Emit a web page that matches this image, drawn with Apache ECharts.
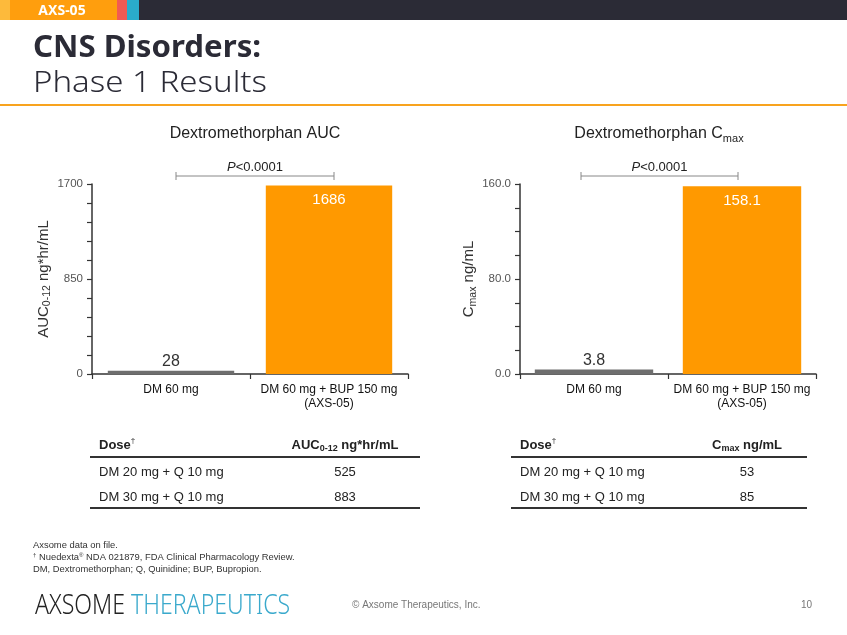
<!DOCTYPE html>
<html><head><meta charset="utf-8">
<script src="https://cdn.jsdelivr.net/npm/echarts@6/dist/echarts.min.js"></script>
<style>html,body{margin:0;padding:0;background:#fff}#c{width:847px;height:635px}</style>
</head><body><div id="c"></div>
<script>
// ---- data ----
const categories = ['DM 60 mg', 'DM 60 mg + BUP 150 mg\n(AXS-05)'];
const aucValues = [28, 1686];
const cmaxValues = [3.8, 158.1];
const aucAxis = { min: 0, max: 1700, interval: 170, labels: [0, 850, 1700] };
const cmaxAxis = { min: 0, max: 160, interval: 20, labels: [0, 80, 160] };
const tableDoses = ['DM 20 mg + Q 10 mg', 'DM 30 mg + Q 10 mg'];
const tableAuc = [525, 883];
const tableCmax = [53, 85];
const pValueText = '<0.0001';
const footnotes = ['Axsome data on file.', 'NDA 021879, FDA Clinical Pharmacology Review.', 'DM, Dextromethorphan; Q, Quinidine; BUP, Bupropion.'];

// ---- styles ----
const barColors = ['#6e6e6e', '#FF9900'];
const FONT = '"Liberation Sans", Arial, sans-serif';
const TFONT = '"Noto Sans", "DejaVu Sans", sans-serif';

const chart = echarts.init(document.getElementById('c'), null, { renderer: 'canvas' });

function barItems(values, fmt) {
  return values.map((v, i) => ({
    value: v,
    itemStyle: { color: barColors[i] },
    label: i === 0
      ? { show: true, position: 'top', distance: 1, color: '#333', fontSize: 16, fontFamily: FONT, formatter: () => fmt(v) }
      : { show: true, position: 'insideTop', distance: 7, color: '#fff', fontSize: 15, fontFamily: FONT, formatter: () => fmt(v) }
  }));
}

function yAxisDef(gi, ax, fmt, nameRich, nameGap) {
  return {
    type: 'value', gridIndex: gi, min: ax.min, max: ax.max, interval: ax.interval,
    axisLine: { show: true, lineStyle: { color: '#333', width: 1.5 } },
    axisTick: { show: true, length: 5, lineStyle: { color: '#333', width: 1.2 } },
    splitLine: { show: false },
    axisLabel: {
      color: '#555', fontSize: 11.5, fontFamily: FONT, margin: 9,
      formatter: v => ax.labels.some(t => Math.abs(t - v) < 1e-6) ? fmt(v) : ''
    },
    name: nameRich.text, nameLocation: 'middle', nameGap: nameGap, nameRotate: 90,
    nameTextStyle: { color: '#333', fontSize: 15, fontFamily: FONT, rich: nameRich.rich }
  };
}

function xAxisDef(gi) {
  return {
    type: 'category', gridIndex: gi, data: categories,
    axisLine: { show: true, lineStyle: { color: '#333', width: 1.5 } },
    axisTick: { show: true, length: 5, alignWithLabel: false, lineStyle: { color: '#333', width: 1.2 } },
    axisLabel: { color: '#111', fontSize: 12, fontFamily: FONT, margin: 9, lineHeight: 14, interval: 0 }
  };
}

const subRich = {
  m: { fontSize: 15, fontFamily: FONT, color: '#333', lineHeight: 19 },
  s: { fontSize: 10.5, fontFamily: FONT, color: '#333', lineHeight: 6, verticalAlign: 'bottom' }
};

const option = {
  animation: false,
  backgroundColor: '#fff',
  grid: [
    { left: 92, top: 184, width: 316, height: 190 },
    { left: 520, top: 184, width: 296, height: 190 }
  ],
  xAxis: [xAxisDef(0), xAxisDef(1)],
  yAxis: [
    yAxisDef(0, aucAxis, v => String(v), { text: '{m|AUC}{s|0-12}{m| ng*hr/mL}', rich: subRich }, 39),
    yAxisDef(1, cmaxAxis, v => v.toFixed(1), { text: '{m|C}{s|max}{m| ng/mL}', rich: subRich }, 39)
  ],
  series: [
    { type: 'bar', xAxisIndex: 0, yAxisIndex: 0, barWidth: '80%', data: barItems(aucValues, v => String(v)) },
    { type: 'bar', xAxisIndex: 1, yAxisIndex: 1, barWidth: '80%', data: barItems(cmaxValues, v => v.toFixed(1)) }
  ]
};
chart.setOption(option);

// helper for rich token styles in graphic text (zrender uses fill)
function tok(o) { return Object.assign({ fill: o.color }, o); }

// ---- annotations & page layout ----
const g = [];
// header bar
g.push({ type: 'rect', shape: { x: 0, y: 0, width: 847, height: 20 }, style: { fill: '#2b2b36' } });
g.push({ type: 'rect', shape: { x: 0, y: 0, width: 10, height: 20 }, style: { fill: '#FDBA3B' } });
g.push({ type: 'rect', shape: { x: 10, y: 0, width: 107, height: 20 }, style: { fill: '#FF9E0D' } });
g.push({ type: 'rect', shape: { x: 117, y: 0, width: 10, height: 20 }, style: { fill: '#F25A52' } });
g.push({ type: 'rect', shape: { x: 127, y: 0, width: 12, height: 20 }, style: { fill: '#2AACCB' } });
g.push({ type: 'text', x: 62, y: 11, style: { text: 'AXS-05', fill: '#fff', font: 'bold 14px ' + TFONT, textAlign: 'center', textVerticalAlign: 'middle' } });
// title
g.push({ type: 'text', x: 33, y: 48, scaleX: 1.04, style: { text: 'CNS Disorders:', fill: '#2b2b36', font: 'bold 30px ' + TFONT, textVerticalAlign: 'middle' } });
g.push({ type: 'text', x: 33, y: 83, scaleX: 1.1, style: { text: 'Phase 1 Results', fill: '#2b2b36', font: '300 30px ' + TFONT, textVerticalAlign: 'middle' } });
g.push({ type: 'line', shape: { x1: 0, y1: 105, x2: 847, y2: 105 }, style: { stroke: '#F8A31E', lineWidth: 2 } });

// chart titles and p-value brackets
const chartTitles = [
  '{m|Dextromethorphan AUC}',
  '{m|Dextromethorphan C}{s|max}'
];
const titleX = [255, 659];
const bracketShift = [[5, 5], [-13, -4]];
const titleRich = {
  m: tok({ fontSize: 16, fontFamily: FONT, color: '#222', lineHeight: 20 }),
  s: tok({ fontSize: 11, fontFamily: FONT, color: '#222', lineHeight: 6, verticalAlign: 'bottom' })
};
const axesMax = [aucAxis.max, cmaxAxis.max];
[0, 1].forEach(gi => {
  const a = chart.convertToPixel({ gridIndex: gi }, [0, axesMax[gi]]);
  const b = chart.convertToPixel({ gridIndex: gi }, [1, axesMax[gi]]);
  g.push({ type: 'text', x: titleX[gi], y: 134, style: { text: chartTitles[gi], rich: titleRich, textAlign: 'center', textVerticalAlign: 'middle' } });
  const by = a[1] - 8;
  const x1 = a[0] + bracketShift[gi][0], x2 = b[0] + bracketShift[gi][1];
  g.push({ type: 'line', shape: { x1: x1, y1: by, x2: x2, y2: by }, style: { stroke: '#888', lineWidth: 1 } });
  g.push({ type: 'line', shape: { x1: x1, y1: by - 4, x2: x1, y2: by + 4 }, style: { stroke: '#888', lineWidth: 1 } });
  g.push({ type: 'line', shape: { x1: x2, y1: by - 4, x2: x2, y2: by + 4 }, style: { stroke: '#888', lineWidth: 1 } });
  g.push({ type: 'text', x: (x1 + x2) / 2, y: by - 9, style: {
    text: '{i|P}{n|' + pValueText + '}',
    rich: { i: tok({ fontSize: 13, fontStyle: 'italic', fontFamily: FONT, color: '#222' }), n: tok({ fontSize: 13, fontFamily: FONT, color: '#222' }) },
    textAlign: 'center', textVerticalAlign: 'middle' } });
});

// tables
const tables = [
  { x1: 90, x2: 420, valX: 345, head: '{b|AUC}{bs|0-12}{b| ng*hr/mL}', vals: tableAuc },
  { x1: 511, x2: 807, valX: 747, head: '{b|C}{bs|max}{b| ng/mL}', vals: tableCmax }
];
const tRich = {
  b: tok({ fontSize: 13, fontWeight: 'bold', fontFamily: FONT, color: '#222', lineHeight: 16 }),
  bs: tok({ fontSize: 9, fontWeight: 'bold', fontFamily: FONT, color: '#222', lineHeight: 6, verticalAlign: 'bottom' }),
  sup: tok({ fontSize: 8, fontFamily: FONT, color: '#222', lineHeight: 16, verticalAlign: 'top' })
};
tables.forEach(t => {
  g.push({ type: 'text', x: t.x1 + 9, y: 445, style: { text: '{b|Dose}{sup|†}', rich: tRich, textVerticalAlign: 'middle' } });
  g.push({ type: 'text', x: t.valX, y: 445, style: { text: t.head, rich: tRich, textAlign: 'center', textVerticalAlign: 'middle' } });
  g.push({ type: 'line', shape: { x1: t.x1, y1: 457, x2: t.x2, y2: 457 }, style: { stroke: '#333', lineWidth: 2 } });
  tableDoses.forEach((d, r) => {
    const y = 472 + r * 25;
    g.push({ type: 'text', x: t.x1 + 9, y: y, style: { text: d, fill: '#222', font: '13px ' + FONT, textVerticalAlign: 'middle' } });
    g.push({ type: 'text', x: t.valX, y: y, style: { text: String(t.vals[r]), fill: '#222', font: '13px ' + FONT, textAlign: 'center', textVerticalAlign: 'middle' } });
  });
  g.push({ type: 'line', shape: { x1: t.x1, y1: 508, x2: t.x2, y2: 508 }, style: { stroke: '#333', lineWidth: 2 } });
});

// footnotes
const fRich = {
  t: tok({ fontSize: 9.4, fontFamily: FONT, color: '#333' }),
  u: tok({ fontSize: 6, fontFamily: FONT, color: '#333', verticalAlign: 'top' })
};
g.push({ type: 'text', x: 33, y: 545, style: { text: footnotes[0], fill: '#333', font: '9.4px ' + FONT, textVerticalAlign: 'middle' } });
g.push({ type: 'text', x: 33, y: 557, style: { text: '{u|†}{t| Nuedexta}{u|®}{t| ' + footnotes[1] + '}', rich: fRich, textVerticalAlign: 'middle' } });
g.push({ type: 'text', x: 33, y: 569, style: { text: footnotes[2], fill: '#333', font: '9.4px ' + FONT, textVerticalAlign: 'middle' } });

// footer logo & copyright
g.push({ type: 'text', x: 35, y: 606, scaleX: 0.825, style: {
  text: '{a|AXSOME }{b|THERAPEUTICS}',
  rich: { a: tok({ fontSize: 28, fontWeight: 300, fontFamily: TFONT, color: '#222' }), b: tok({ fontSize: 28, fontWeight: 300, fontFamily: TFONT, color: '#3AA9CC' }) },
  textVerticalAlign: 'middle' } });
g.push({ type: 'text', x: 352, y: 605, style: { text: '© Axsome Therapeutics, Inc.', fill: '#777', font: '10px ' + FONT, textVerticalAlign: 'middle' } });
g.push({ type: 'text', x: 812, y: 605, style: { text: '10', fill: '#777', font: '10px ' + FONT, textAlign: 'right', textVerticalAlign: 'middle' } });

chart.setOption({ graphic: { elements: g } });
</script>
</body></html>
